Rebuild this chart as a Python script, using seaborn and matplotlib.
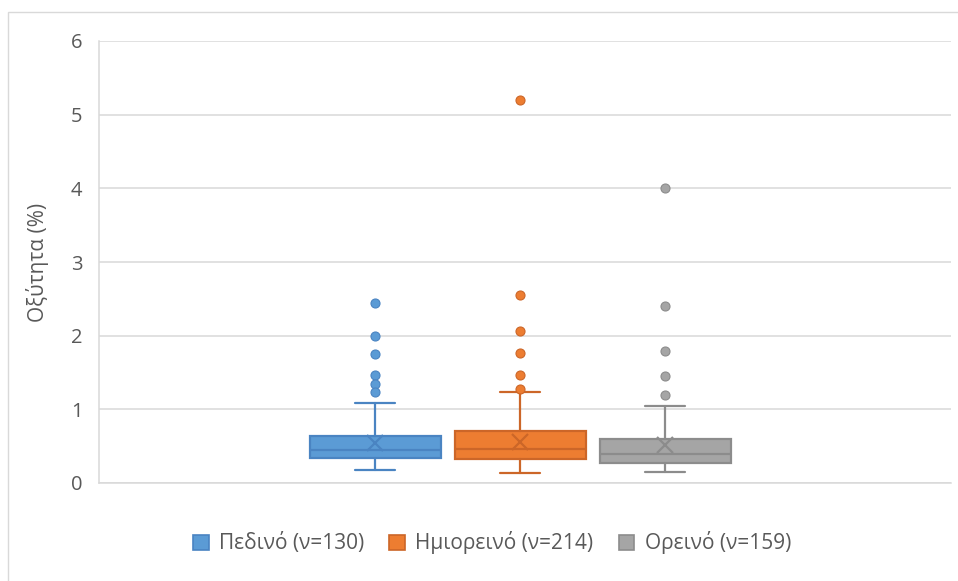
import matplotlib
matplotlib.use("Agg")
import matplotlib.pyplot as plt
import seaborn as sns
from matplotlib.patches import Rectangle, Patch

# Box-plot summaries of acidity per zone
series = ["Πεδινό (ν=130)", "Ημιορεινό (ν=214)", "Ορεινό (ν=159)"]
whisker_low = [0.18, 0.13, 0.145]
quartile_1 = [0.34, 0.33, 0.27]
medians = [0.445, 0.46, 0.40]
quartile_3 = [0.64, 0.70, 0.60]
whisker_high = [1.08, 1.23, 1.04]
means = [0.54, 0.55, 0.51]
outliers_pedino = [2.45, 2.0, 1.75, 1.46, 1.34, 1.23]
outliers_imiorino = [5.2, 2.55, 2.06, 1.77, 1.46, 1.28]
outliers_orino = [4.0, 2.4, 1.79, 1.45, 1.19]
y_ticks = [0, 1, 2, 3, 4, 5, 6]
y_label = "Οξύτητα (%)"

face_colors = ["#5B9BD5", "#ED7D31", "#A5A5A5"]
edge_colors = ["#4A84C2", "#CC6628", "#8C8C8C"]

sns.set_theme(style="whitegrid")
plt.rcParams["font.family"] = ["Open Sans", "DejaVu Sans"]

W, H = 958, 581
fig = plt.figure(figsize=(W / 100, H / 100), dpi=100)
fig.patch.set_facecolor("white")
ax = fig.add_axes([99 / W, 98 / H, 852 / W, 442 / H])
ax.set_facecolor("white")

slot = 145 / 852
box_w = 131 / 852
cap_w = 40 / 852
shift = -5 / 852
all_outliers = [outliers_pedino, outliers_imiorino, outliers_orino]

for i in range(3):
    stats = [dict(med=medians[i], q1=quartile_1[i], q3=quartile_3[i],
                  whislo=whisker_low[i], whishi=whisker_high[i],
                  mean=means[i], fliers=all_outliers[i], label=series[i])]
    fc, ec = face_colors[i], edge_colors[i]
    ax.bxp(stats, positions=[(i - 1) * slot + shift], widths=[box_w],
           capwidths=[cap_w], patch_artist=True, showmeans=True,
           manage_ticks=False,
           boxprops=dict(facecolor=fc, edgecolor=ec, linewidth=1.6),
           medianprops=dict(color=ec, linewidth=1.6),
           whiskerprops=dict(color=ec, linewidth=1.6),
           capprops=dict(color=ec, linewidth=1.6),
           meanprops=dict(marker="x", markersize=11, markeredgecolor=ec,
                          markeredgewidth=1.6),
           flierprops=dict(marker="o", markersize=6.5, markerfacecolor=fc,
                           markeredgecolor=ec, markeredgewidth=0.8))

ax.set_xlim(-0.5, 0.5)
ax.set_ylim(0, 6)
ax.set_yticks(y_ticks)
ax.set_yticklabels([str(t) for t in y_ticks])
ax.set_xticks([])
ax.yaxis.grid(True, color="#D9D9D9", linewidth=1.1)
ax.xaxis.grid(False)
for side in ["top", "right"]:
    ax.spines[side].set_visible(False)
for side in ["left", "bottom"]:
    ax.spines[side].set_color("#D9D9D9")
    ax.spines[side].set_linewidth(1.1)
ax.tick_params(axis="y", length=0, pad=12, labelsize=14.5, labelcolor="#595959")

ax.set_ylabel(y_label, fontsize=15, color="#595959", va="center")
ax.yaxis.set_label_coords((38 - 99) / 852, 0.5)

handles = [Patch(facecolor=fc, edgecolor=ec, linewidth=1.2)
           for fc, ec in zip(face_colors, edge_colors)]
fig.legend(handles, series, loc="center", bbox_to_anchor=(492 / W, 1 - 543 / H),
           ncol=3, frameon=False, fontsize=15, labelcolor="#595959",
           handlelength=0.75, handleheight=0.75, handletextpad=0.5,
           columnspacing=1.2)

fig.patches.append(Rectangle((8 / W, -0.05), 1.1, 1 - 12 / H + 0.05,
                             transform=fig.transFigure, fill=False,
                             edgecolor="#D9D9D9", linewidth=1.0))

fig.savefig("out.png", dpi=100, facecolor="white")
